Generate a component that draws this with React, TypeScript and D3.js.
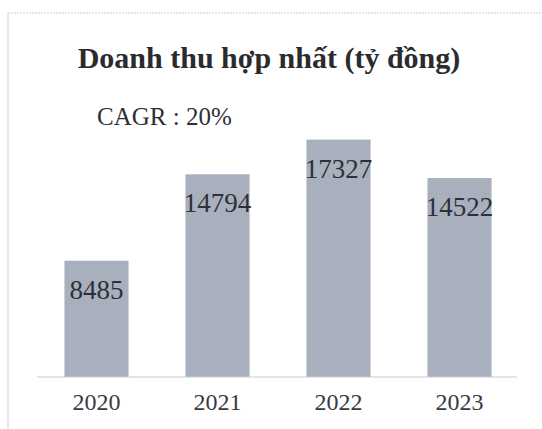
import * as d3 from "d3";

const years = ["2020", "2021", "2022", "2023"];
const revenue = [8485, 14794, 17327, 14522];
const title = "Doanh thu hợp nhất (tỷ đồng)";
const cagrLabel = "CAGR : 20%";

const W = 542;
const H = 429;
const serif = "'Liberation Serif', 'Times New Roman', Times, serif";

const App = () => {
  const baseY = 377;

  const x = d3.scaleBand<string>().domain(years).range([36, 520]).paddingInner(0.47).paddingOuter(0.235);

  const y = d3
    .scaleLinear()
    .domain([0, 20000])
    .range([baseY, baseY - 274]);

  return (
    <svg width={W} height={H} style={{ position: "absolute", left: 0, top: 0, background: "#fff" }}>
      {/* frame */}
      <line x1={8} x2={W} y1={13} y2={13} stroke="#c9ccd2" strokeWidth={1} strokeDasharray="2,1" />
      <line x1={8} x2={8} y1={13} y2={H} stroke="#d8dade" strokeWidth={1.2} />

      <text x={269} y={68} textAnchor="middle" style={{ fontFamily: serif }} fontWeight="bold" fontSize={30} fill="#2b2b2e">
        {title}
      </text>
      <text x={97} y={125} style={{ fontFamily: serif }} fontSize={25} fill="#2f2f33">
        {cagrLabel}
      </text>

      {/* bars */}
      {revenue.map((v, i) => (
        <rect key={years[i]} x={x(years[i])} y={y(v)} width={x.bandwidth()} height={y(0) - y(v)} fill="#a9b0bd" />
      ))}

      {/* value labels */}
      {revenue.map((v, i) => (
        <text
          key={"v" + years[i]}
          x={(x(years[i]) as number) + x.bandwidth() / 2}
          y={y(v) + 38}
          textAnchor="middle"
          style={{ fontFamily: serif }}
          fontSize={27}
          fill="#2e3038"
        >
          {v}
        </text>
      ))}

      {/* axis */}
      <line x1={37} x2={517} y1={baseY} y2={baseY} stroke="#c8cbd0" strokeWidth={1} />
      {years.map((yr) => (
        <text
          key={"t" + yr}
          x={(x(yr) as number) + x.bandwidth() / 2}
          y={410}
          textAnchor="middle"
          style={{ fontFamily: serif }}
          fontSize={24}
          fill="#3a3a3e"
        >
          {yr}
        </text>
      ))}
    </svg>
  );
};

export default App;
